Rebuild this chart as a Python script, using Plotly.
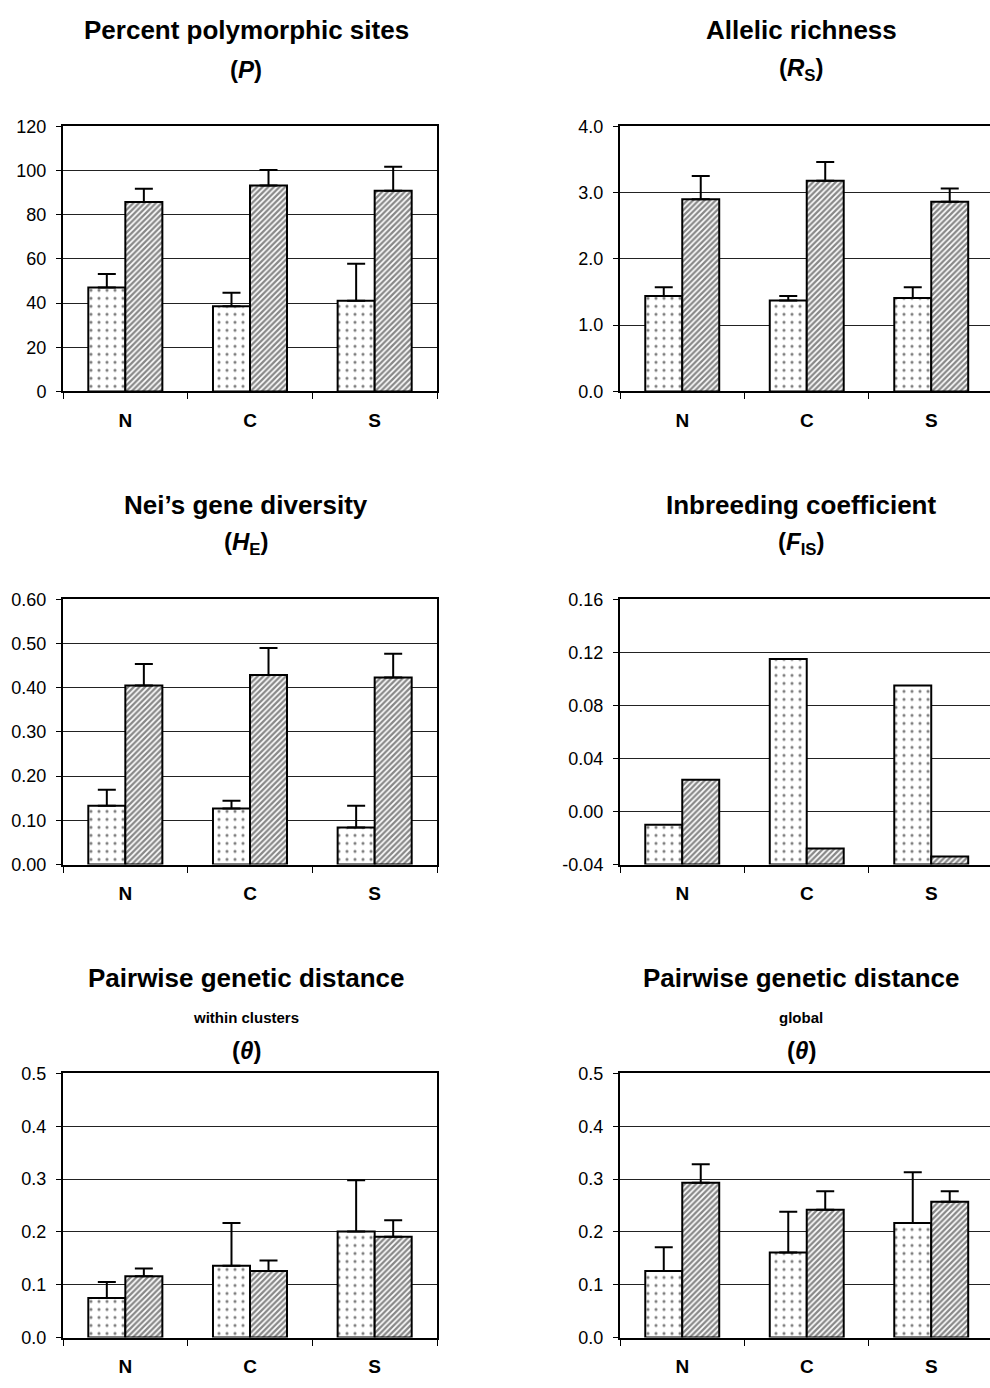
import plotly.graph_objects as go

W, H = 990, 1388

categories = ["N", "C", "S"]

# Percent polymorphic sites (P)
P_dot = [47.0, 38.5, 41.0]
P_dot_err = [6.2, 6.2, 16.8]
P_hat = [85.7, 93.2, 90.8]
P_hat_err = [6.0, 7.0, 10.9]

# Allelic richness (Rs)
RS_dot = [1.44, 1.37, 1.41]
RS_dot_err = [0.13, 0.07, 0.16]
RS_hat = [2.90, 3.18, 2.86]
RS_hat_err = [0.35, 0.28, 0.20]

# Nei's gene diversity (HE)
HE_dot = [0.133, 0.127, 0.084]
HE_dot_err = [0.036, 0.017, 0.049]
HE_hat = [0.405, 0.429, 0.423]
HE_hat_err = [0.049, 0.061, 0.054]

# Inbreeding coefficient (FIS)
FIS_dot = [-0.010, 0.115, 0.095]
FIS_hat = [0.024, -0.028, -0.034]
FIS_ticks = [-0.04, 0.00, 0.04, 0.08, 0.12, 0.16]
FIS_ticklabels = ["-0.04", "0.00", "0.04", "0.08", "0.12", "0.16"]

# Pairwise genetic distance within clusters (theta)
TW_dot = [0.075, 0.136, 0.201]
TW_dot_err = [0.030, 0.081, 0.097]
TW_hat = [0.116, 0.126, 0.191]
TW_hat_err = [0.015, 0.020, 0.031]

# Pairwise genetic distance global (theta)
TG_dot = [0.126, 0.161, 0.217]
TG_dot_err = [0.045, 0.077, 0.096]
TG_hat = [0.293, 0.242, 0.257]
TG_hat_err = [0.035, 0.035, 0.020]

panels = [
    dict(title="Percent polymorphic sites", sub=None, sym="(<i>P</i>)",
         dot=P_dot, dot_err=P_dot_err, hat=P_hat, hat_err=P_hat_err,
         yrange=[0, 120], dtick=20, fmt="d"),
    dict(title="Allelic richness", sub=None, sym="(<i>R</i><sub>S</sub>)",
         dot=RS_dot, dot_err=RS_dot_err, hat=RS_hat, hat_err=RS_hat_err,
         yrange=[0, 4], dtick=1, fmt=".1f"),
    dict(title="Nei’s gene diversity", sub=None, sym="(<i>H</i><sub>E</sub>)",
         dot=HE_dot, dot_err=HE_dot_err, hat=HE_hat, hat_err=HE_hat_err,
         yrange=[0, 0.6], dtick=0.1, fmt=".2f"),
    dict(title="Inbreeding coefficient", sub=None, sym="(<i>F</i><sub>IS</sub>)",
         dot=FIS_dot, dot_err=None, hat=FIS_hat, hat_err=None,
         yrange=[-0.04, 0.16], dtick=0.04, fmt=".2f",
         tickvals=FIS_ticks, ticktext=FIS_ticklabels),
    dict(title="Pairwise genetic distance", sub="within clusters", sym="(<i>θ</i>)",
         dot=TW_dot, dot_err=TW_dot_err, hat=TW_hat, hat_err=TW_hat_err,
         yrange=[0, 0.5], dtick=0.1, fmt=".1f"),
    dict(title="Pairwise genetic distance", sub="global", sym="(<i>θ</i>)",
         dot=TG_dot, dot_err=TG_dot_err, hat=TG_hat, hat_err=TG_hat_err,
         yrange=[0, 0.5], dtick=0.1, fmt=".1f"),
]

cols = [dict(x0=63, x1=437, xr=[-0.5, 2.5], cx=246),
        dict(x0=620, x1=990, xr=[-0.5, 2.472], cx=801)]
rows = [dict(y0=118, y1=387, ty=[20, None, 60]),
        dict(y0=598, y1=867, ty=[502, None, 541]),
        dict(y0=1079, y1=1347, ty=[982, 1022, 1056])]

FONT = "Arial, 'Liberation Sans', sans-serif"

fig = go.Figure()
layout = dict(width=W, height=H, margin=dict(l=0, r=0, t=0, b=0),
              paper_bgcolor="white", plot_bgcolor="white",
              barmode="group", bargap=0.406, bargroupgap=0,
              showlegend=False, font=dict(family=FONT, color="black"))
annotations = []

dot_pattern = dict(shape=".", size=8, solidity=0.12, fgcolor="black",
                   bgcolor="white", fillmode="overlay")
hat_pattern = dict(shape="/", size=4, solidity=0.58, fgcolor="#111",
                   bgcolor="white", fillmode="overlay")

for i, p in enumerate(panels):
    r, c = divmod(i, 2)
    col, row = cols[c], rows[r]
    k = i + 1
    xa = "x" if k == 1 else f"x{k}"
    ya = "y" if k == 1 else f"y{k}"
    base = p["yrange"][0]
    for vals, errs, pat, name in [(p["dot"], p["dot_err"], dot_pattern, "Series 1"),
                                  (p["hat"], p["hat_err"], hat_pattern, "Series 2")]:
        err = None
        if errs is not None:
            err = dict(type="data", array=errs, arrayminus=[0] * len(errs),
                       symmetric=False, color="black", thickness=2, width=9)
        fig.add_trace(go.Bar(
            x=categories, y=[v - base for v in vals], base=base, name=name,
            xaxis=xa, yaxis=ya, error_y=err,
            marker=dict(color="white", pattern=pat,
                        line=dict(color="black", width=2)),
        ))
    xkey = "xaxis" if k == 1 else f"xaxis{k}"
    ykey = "yaxis" if k == 1 else f"yaxis{k}"
    layout[xkey] = dict(
        domain=[col["x0"] / W, col["x1"] / W], anchor=ya,
        type="category", range=col["xr"], tickson="boundaries",
        ticks="outside", ticklen=6, tickwidth=1, tickcolor="black",
        showline=True, linewidth=2, linecolor="black", mirror=True,
        showgrid=False, zeroline=False,
        tickvals=categories, ticktext=[f"<b>{cat}</b>" for cat in categories],
        tickfont=dict(family=FONT, size=19, color="black"),
        ticklabelstandoff=11,
    )
    yax = dict(
        domain=[1 - row["y1"] / H, 1 - row["y0"] / H], anchor=xa,
        range=p["yrange"], dtick=p["dtick"], tick0=p["yrange"][0],
        tickformat=p["fmt"],
        ticks="outside", ticklen=5, tickwidth=1, tickcolor="black",
        showline=True, linewidth=2, linecolor="black", mirror=(c == 0),
        showgrid=True, gridcolor="#222", gridwidth=1, zeroline=False,
        tickfont=dict(family=FONT, size=18, color="black"),
        ticklabelstandoff=6,
    )
    if "tickvals" in p:
        yax.update(tickmode="array", tickvals=p["tickvals"], ticktext=p["ticktext"])
    layout[ykey] = yax
    ty = row["ty"]
    annotations.append(dict(text=f"<b>{p['title']}</b>", x=col["cx"] / W, y=1 - ty[0] / H,
                            xref="paper", yref="paper", xanchor="center", yanchor="middle",
                            showarrow=False, font=dict(family=FONT, size=26, color="black")))
    if p["sub"]:
        annotations.append(dict(text=f"<b>{p['sub']}</b>", x=col["cx"] / W, y=1 - ty[1] / H,
                                xref="paper", yref="paper", xanchor="center", yanchor="middle",
                                showarrow=False, font=dict(family=FONT, size=15, color="black")))
    annotations.append(dict(text=f"<b>{p['sym']}</b>", x=col["cx"] / W, y=1 - ty[2] / H,
                            xref="paper", yref="paper", xanchor="center", yanchor="middle",
                            showarrow=False, font=dict(family=FONT, size=24, color="black")))

layout["annotations"] = annotations
fig.update_layout(**layout)
fig.write_html("out.html")
